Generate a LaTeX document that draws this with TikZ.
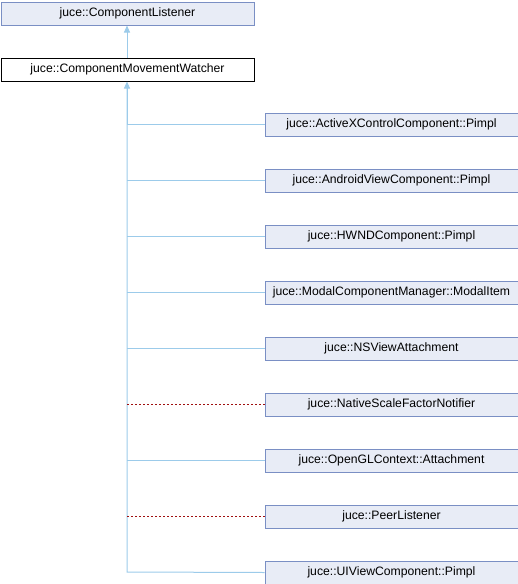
\documentclass[tikz,border=0pt]{standalone}
\usepackage{fontspec}
\setmainfont{Liberation Sans}
\usetikzlibrary{arrows.meta}
\definecolor{boxfill}{HTML}{E8ECF6}
\definecolor{boxdraw}{HTML}{7A8FC4}
\definecolor{edgeblue}{HTML}{9CCBEA}
\definecolor{edgered}{HTML}{A01010}
\begin{document}
\begin{tikzpicture}[x=1pt,y=-1pt,
  cls/.style={draw=boxdraw, fill=boxfill, line width=1pt, minimum width=253pt, minimum height=23pt, inner sep=0pt, font=\fontsize{12.2}{14}\selectfont, anchor=north west},
  cur/.style={cls, draw=black, fill=white},
  pub/.style={draw=edgeblue, line width=1pt},
  priv/.style={draw=edgered, line width=1pt, dash pattern=on 2pt off 2pt},
  inh/.style={pub, -{Triangle[width=6pt,length=7pt,fill=edgeblue]}}]
\useasboundingbox (0,0) rectangle (518,584);
\node[cls] (base) at (0.5,1.5) {juce::ComponentListener};
\node[cur] (watch) at (0.5,57.5) {juce::ComponentMovementWatcher};
\draw[inh] (watch.north -| 127,0) -- (base.south -| 127,0);
\foreach \n/\t [count=\i] in {
  c1/{juce::ActiveXControlComponent::Pimpl},
  c2/{juce::AndroidViewComponent::Pimpl},
  c3/{juce::HWNDComponent::Pimpl},
  c4/{juce::ModalComponentManager::ModalItem},
  c5/{juce::NSViewAttachment},
  c6/{juce::NativeScaleFactorNotifier},
  c7/{juce::OpenGLContext::Attachment},
  c8/{juce::PeerListener},
  c9/{juce::UIViewComponent::Pimpl}} {
  \node[cls] (\n) at (264.5, 56*\i+56.5) {\t};
}
\coordinate (bend) at (127,572);
\draw[pub] (c9.west) -- (bend) -- (127,87);
\draw[inh] (127,124) -- (watch.south -| 127,0);
\foreach \n in {c1,c2,c3,c4,c5,c7} { \draw[pub] (\n.west) -- (\n.west -| bend); }
\foreach \n in {c6,c8} { \draw[priv] (\n.west) -- (\n.west -| bend); }
\end{tikzpicture}
\end{document}
